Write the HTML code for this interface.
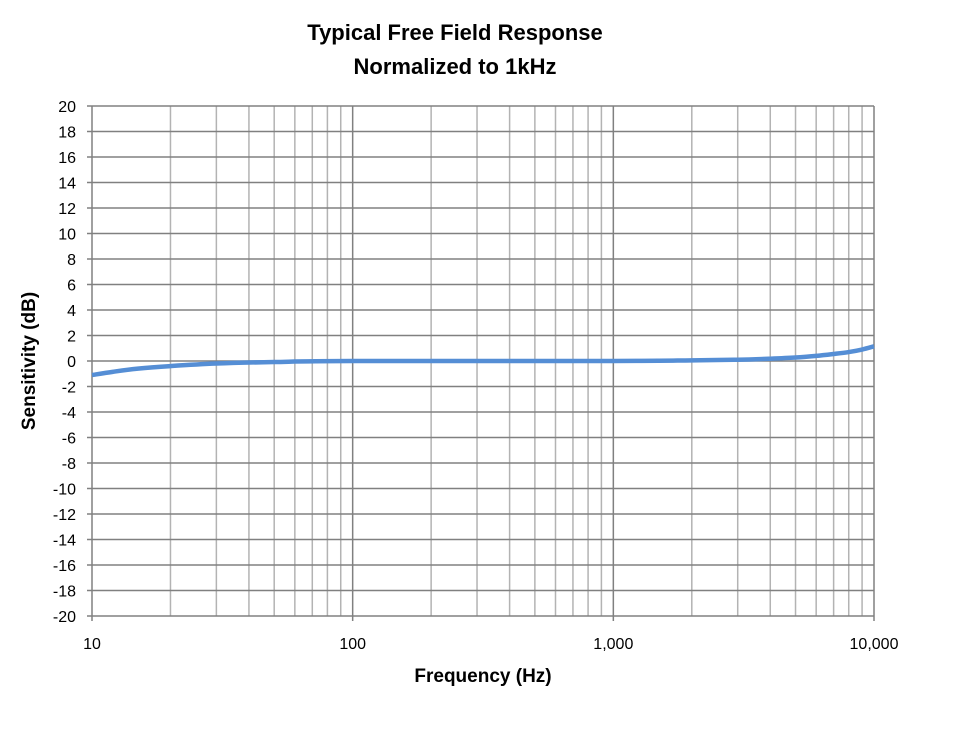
<!DOCTYPE html>
<html><head><meta charset="utf-8"><style>
body{margin:0;background:#fff;}
svg text{font-family:"Liberation Sans",Calibri,sans-serif;}
</style></head><body>
<svg id="c" width="966" height="739" xmlns="http://www.w3.org/2000/svg">
<text x="455" y="40" text-anchor="middle" font-size="22" font-weight="bold">Typical Free Field Response</text>
<text x="455" y="74" text-anchor="middle" font-size="22" font-weight="bold">Normalized to 1kHz</text>
<text x="483" y="682" text-anchor="middle" font-size="19" font-weight="bold">Frequency (Hz)</text>
<text transform="translate(35,361) rotate(-90)" text-anchor="middle" font-size="19" font-weight="bold">Sensitivity (dB)</text>
<g id="grid"></g><g id="labels"></g><g id="series"></g>
</svg>
<script>
const freqs=[10,12,15,20,30,50,100,1000,2000,3000,4000,5000,6000,7000,8000,9000,10000];
const dB=[-1.1,-0.85,-0.6,-0.4,-0.2,-0.08,0,0,0.05,0.1,0.18,0.27,0.4,0.55,0.7,0.9,1.15];
const xTicks=[10,100,1000,10000];
const xTickLabels=["10","100","1,000","10,000"];
const yMin=-20,yMax=20,yStep=2;
const L=92,R=874,T=106,B=616;
const NS="http://www.w3.org/2000/svg";
function xs(f){return L+(Math.log10(f)-1)/3*(R-L);}
function ys(v){return B-(v-yMin)/(yMax-yMin)*(B-T);}
function mk(tag,attrs,parent){const e=document.createElementNS(NS,tag);for(const k in attrs)e.setAttribute(k,attrs[k]);document.getElementById(parent).appendChild(e);return e;}
for(let d=10;d<10000;d*=10){for(let m=2;m<=9;m++){const x=xs(d*m);
const g=mk('line',{x1:x,x2:x,y1:T,y2:B,stroke:'#b3b3b3','stroke-width':1.5},'grid');

}}
for(const f of xTicks){const x=xs(f);
const g=mk('line',{x1:x,x2:x,y1:T,y2:B+5,stroke:'#808080','stroke-width':1.5},'grid');

}
for(let v=yMin;v<=yMax;v+=yStep){const y=ys(v);
const g=mk('line',{x1:L-5,x2:R,y1:y,y2:y,stroke:'#808080','stroke-width':1.5},'grid');


const t=mk('text',{x:L-16,y:y+6,'text-anchor':'end','font-size':16},'labels');t.textContent=v;

}
xTicks.forEach((f,i)=>{const t=mk('text',{x:xs(f),y:B+33,'text-anchor':'middle','font-size':16},'labels');t.textContent=xTickLabels[i];

});
// smooth curve via monotone interpolation in log space
const pts=freqs.map((f,i)=>[xs(f),ys(dB[i])]);
let d='M'+pts[0][0]+','+pts[0][1];
for(let i=0;i<pts.length-1;i++){const p0=pts[i-1]||pts[i],p1=pts[i],p2=pts[i+1],p3=pts[i+2]||p2;
const c1=[p1[0]+(p2[0]-p0[0])/6,p1[1]+(p2[1]-p0[1])/6],c2=[p2[0]-(p3[0]-p1[0])/6,p2[1]-(p3[1]-p1[1])/6];
d+=' C'+c1+' '+c2+' '+p2;}
const p=mk('path',{d:d,fill:'none',stroke:'#558ed5','stroke-width':4.5,'stroke-linecap':'butt'},'series');


</script>
</body></html>
